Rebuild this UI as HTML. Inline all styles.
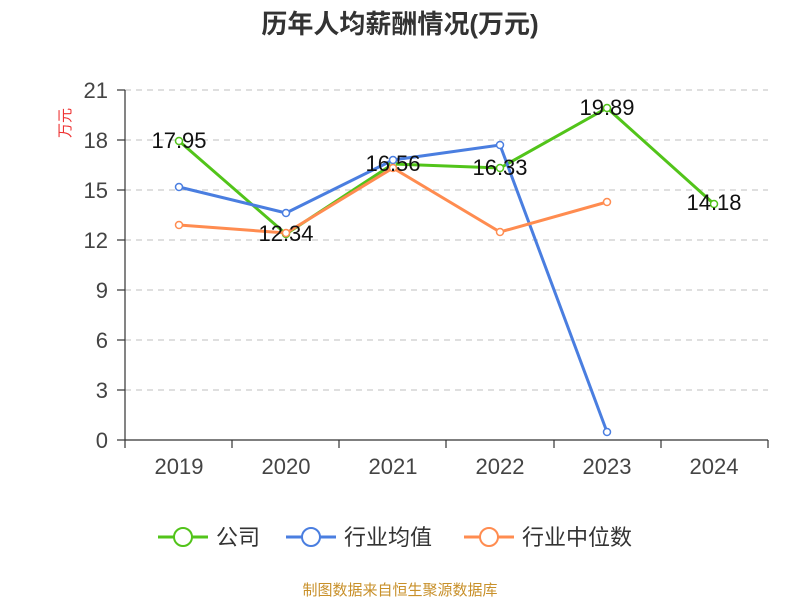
<!DOCTYPE html>
<html><head><meta charset="utf-8"><style>body{margin:0;background:#fff}</style></head><body>
<svg width="800" height="600" xmlns="http://www.w3.org/2000/svg" font-family="Liberation Sans, Noto Sans CJK SC, sans-serif">
<rect width="800" height="600" fill="#fff"/>
<text x="400" y="33" text-anchor="middle" font-size="26" font-weight="bold" fill="#333">历年人均薪酬情况(万元)</text>
<text x="70" y="123" font-size="15" fill="#e33" transform="rotate(-90 70 123)" text-anchor="middle">万元</text>
<g stroke="#ccc" stroke-dasharray="6,5" stroke-width="1.2">
<line x1="125" x2="768" y1="90" y2="90"/><line x1="125" x2="768" y1="140" y2="140"/><line x1="125" x2="768" y1="190" y2="190"/><line x1="125" x2="768" y1="240" y2="240"/><line x1="125" x2="768" y1="290" y2="290"/><line x1="125" x2="768" y1="340" y2="340"/><line x1="125" x2="768" y1="390" y2="390"/>
</g>
<g stroke="#333" stroke-width="1.2">
<line x1="125" x2="125" y1="90" y2="440"/><line x1="125" x2="768" y1="440" y2="440"/>
<line x1="117" x2="125" y1="90" y2="90"/><line x1="117" x2="125" y1="140" y2="140"/><line x1="117" x2="125" y1="190" y2="190"/><line x1="117" x2="125" y1="240" y2="240"/><line x1="117" x2="125" y1="290" y2="290"/><line x1="117" x2="125" y1="340" y2="340"/><line x1="117" x2="125" y1="390" y2="390"/><line x1="117" x2="125" y1="440" y2="440"/>
<line x1="125" x2="125" y1="440" y2="448"/><line x1="232" x2="232" y1="440" y2="448"/><line x1="339" x2="339" y1="440" y2="448"/><line x1="446" x2="446" y1="440" y2="448"/><line x1="554" x2="554" y1="440" y2="448"/><line x1="661" x2="661" y1="440" y2="448"/><line x1="768" x2="768" y1="440" y2="448"/>
</g>
<g font-size="22" fill="#444" text-anchor="end">
<text x="108" y="98">21</text><text x="108" y="148">18</text><text x="108" y="198">15</text><text x="108" y="248">12</text><text x="108" y="298">9</text><text x="108" y="348">6</text><text x="108" y="398">3</text><text x="108" y="448">0</text>
</g>
<g font-size="22" fill="#444" text-anchor="middle">
<text x="179" y="474">2019</text><text x="286" y="474">2020</text><text x="393" y="474">2021</text><text x="500" y="474">2022</text><text x="607" y="474">2023</text><text x="714" y="474">2024</text>
</g>
<g fill="none" stroke-width="3">
<polyline stroke="#52c41a" points="179,141 286,234 393,164 500,168 607,108 714,204"/>
<polyline stroke="#4a7ee0" points="179,187 286,213 393,160 500,145 607,432"/>
<polyline stroke="#ff8c50" points="179,225 286,233 393,168 500,232 607,202"/>
</g>
<g fill="#fff" stroke-width="1.5">
<g stroke="#52c41a"><circle cx="179" cy="141" r="3.5"/><circle cx="286" cy="234" r="3.5"/><circle cx="393" cy="164" r="3.5"/><circle cx="500" cy="168" r="3.5"/><circle cx="607" cy="108" r="3.5"/><circle cx="714" cy="204" r="3.5"/></g>
<g stroke="#4a7ee0"><circle cx="179" cy="187" r="3.5"/><circle cx="286" cy="213" r="3.5"/><circle cx="393" cy="160" r="3.5"/><circle cx="500" cy="145" r="3.5"/><circle cx="607" cy="432" r="3.5"/></g>
<g stroke="#ff8c50"><circle cx="179" cy="225" r="3.5"/><circle cx="286" cy="233" r="3.5"/><circle cx="393" cy="168" r="3.5"/><circle cx="500" cy="232" r="3.5"/><circle cx="607" cy="202" r="3.5"/></g>
</g>
<g font-size="22" fill="#111" text-anchor="middle">
<text x="179" y="148">17.95</text><text x="286" y="241">12.34</text><text x="393" y="171">16.56</text><text x="500" y="175">16.33</text><text x="607" y="115">19.89</text><text x="714" y="210">14.18</text>
</g>
<g font-size="22" fill="#333">
<line x1="158" x2="208" y1="537" y2="537" stroke="#52c41a" stroke-width="3"/><circle cx="183" cy="537" r="9" fill="#fff" stroke="#52c41a" stroke-width="2"/><text x="216" y="545">公司</text>
<line x1="286" x2="336" y1="537" y2="537" stroke="#4a7ee0" stroke-width="3"/><circle cx="311" cy="537" r="9" fill="#fff" stroke="#4a7ee0" stroke-width="2"/><text x="344" y="545">行业均值</text>
<line x1="464" x2="514" y1="537" y2="537" stroke="#ff8c50" stroke-width="3"/><circle cx="489" cy="537" r="9" fill="#fff" stroke="#ff8c50" stroke-width="2"/><text x="522" y="545">行业中位数</text>
</g>
<text x="400" y="595" text-anchor="middle" font-size="15" fill="#c8902a">制图数据来自恒生聚源数据库</text>
</svg>
</body></html>
